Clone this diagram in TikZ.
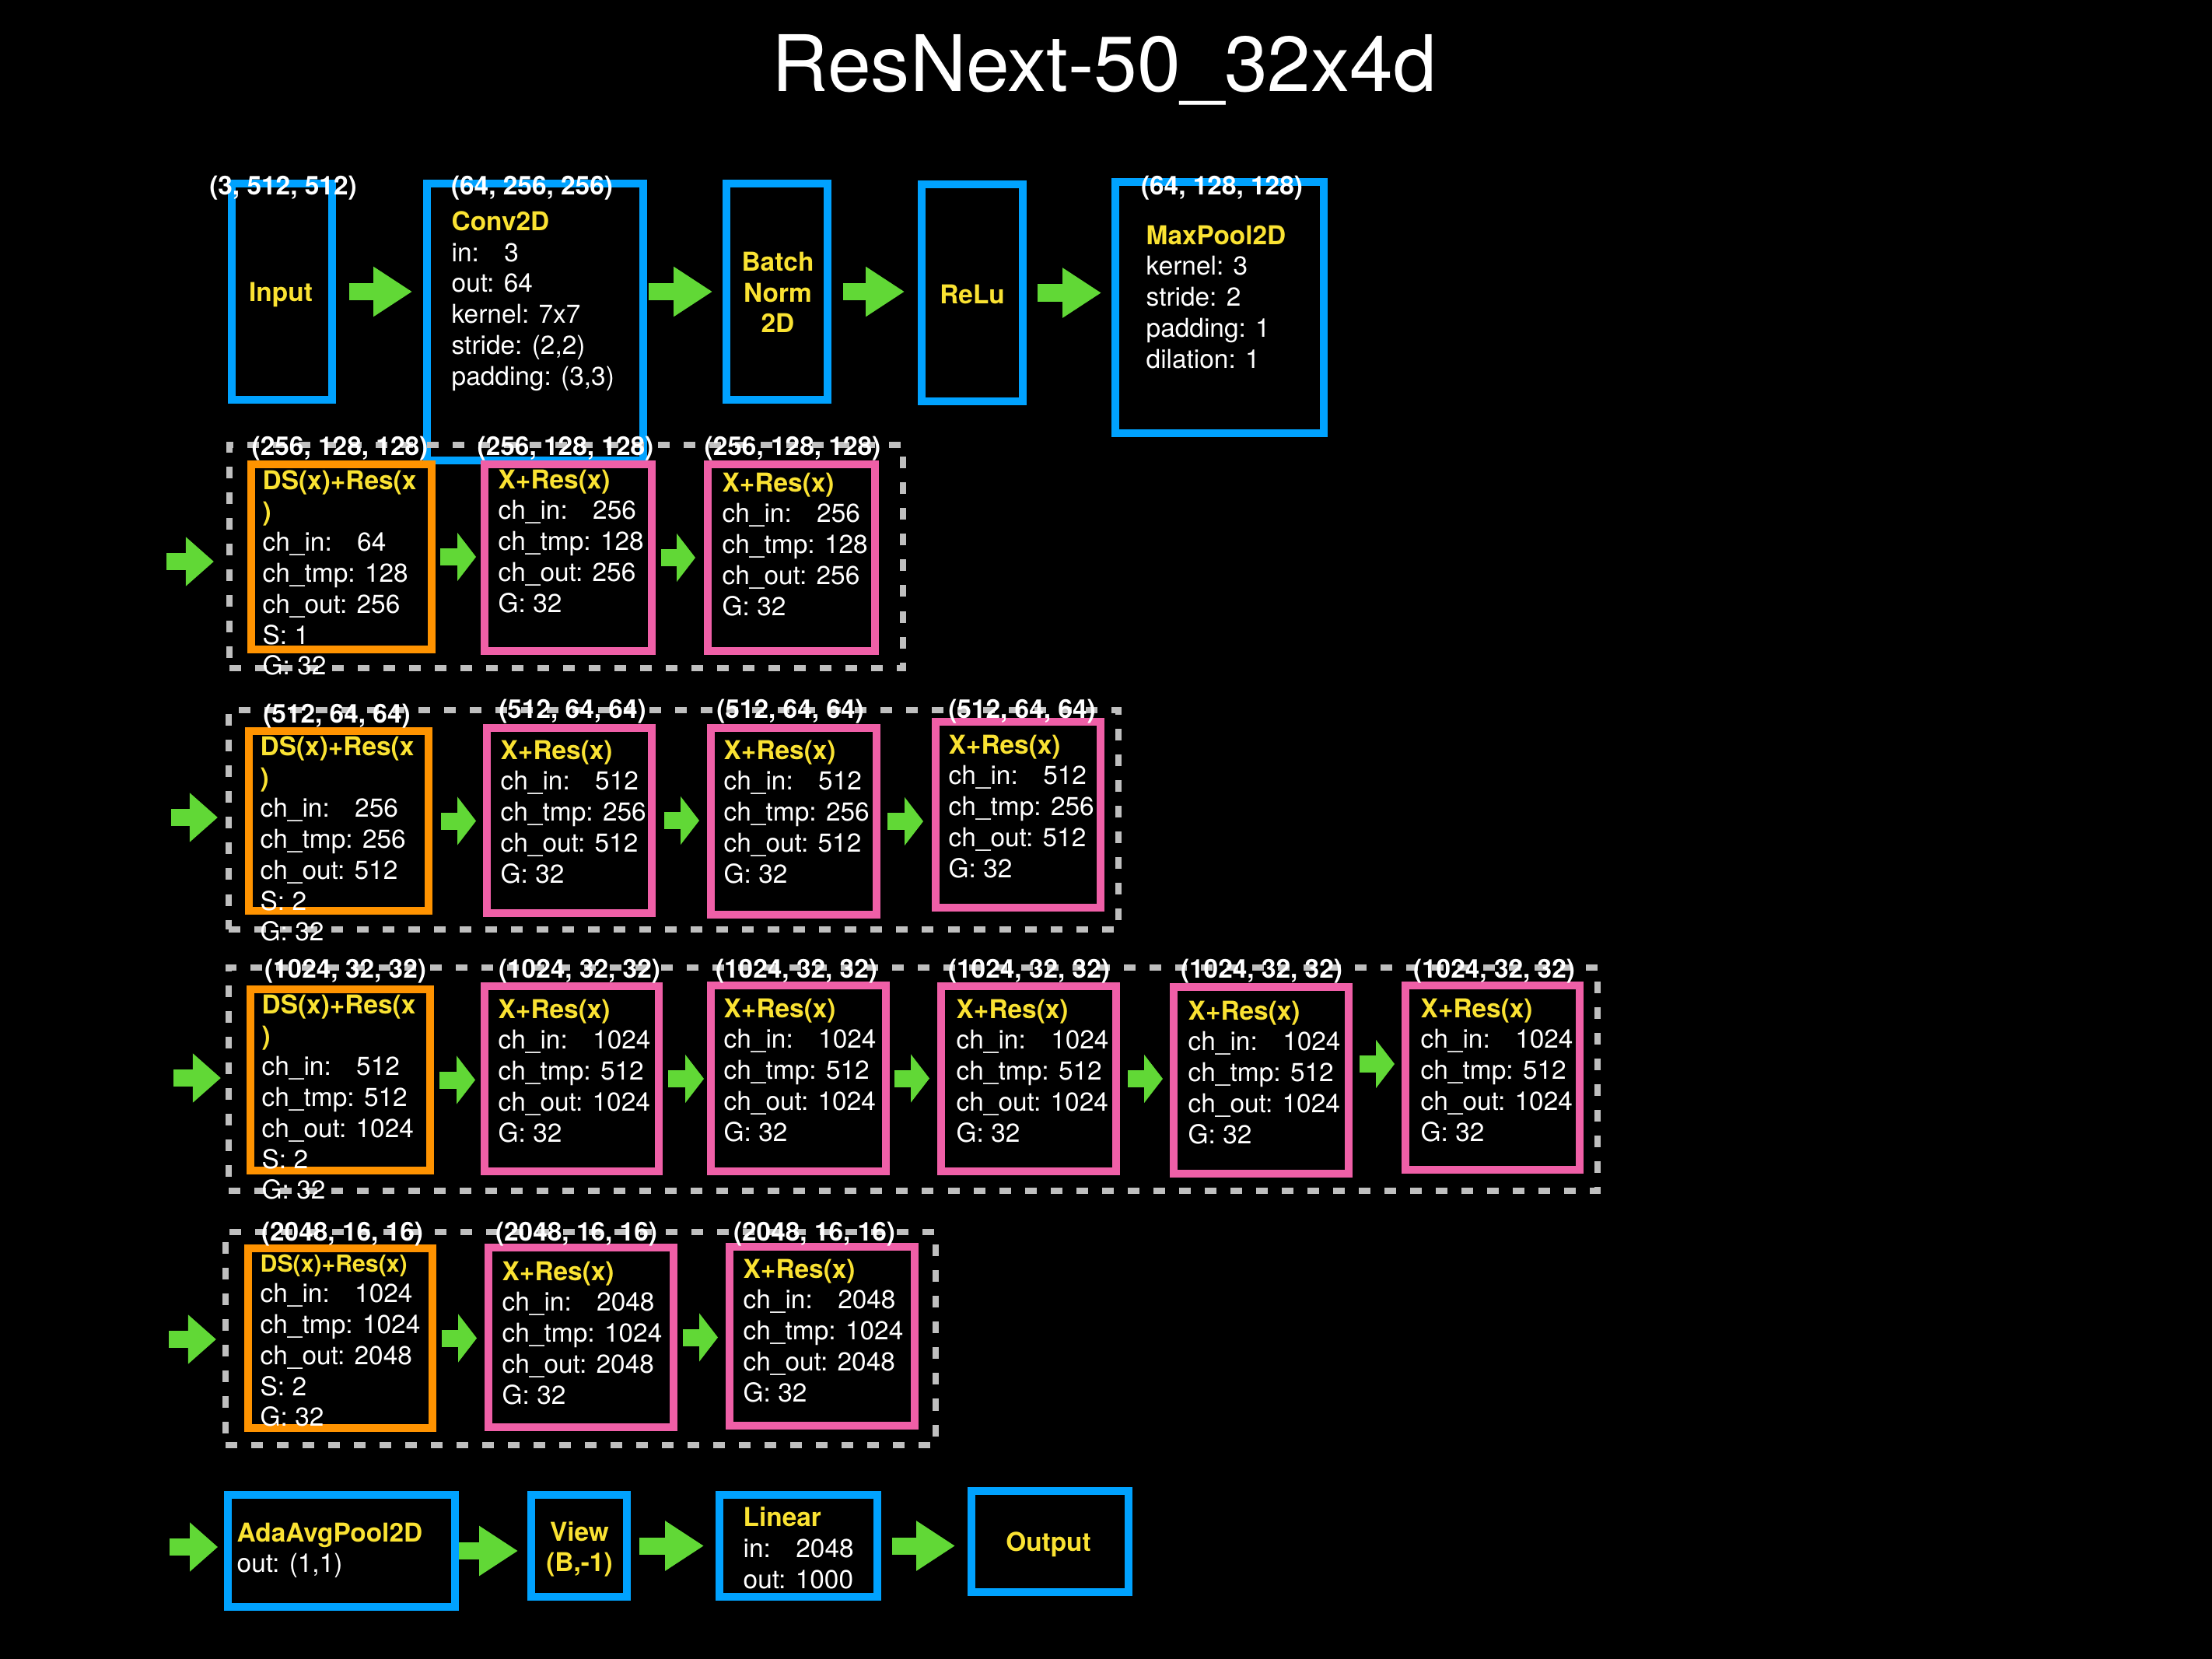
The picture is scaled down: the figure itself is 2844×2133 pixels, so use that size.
\documentclass[tikz,border=0pt]{standalone}
\usepackage{fontspec}
\setmainfont{TeX Gyre Heros}
\usepackage{xcolor}
\usetikzlibrary{arrows.meta,positioning,fit}
\definecolor{kblue}{RGB}{0,162,255}
\definecolor{korange}{RGB}{255,147,0}
\definecolor{kpink}{RGB}{239,95,167}
\definecolor{kgreen}{RGB}{97,216,54}
\definecolor{kyellow}{RGB}{250,226,50}
\definecolor{kgray}{RGB}{191,191,191}
\newcommand{\hd}[1]{\textcolor{kyellow}{\bfseries #1}}
\tikzset{
  blk/.style={draw=#1, line width=3.1pt, inner sep=0pt},
  grp/.style={draw=kgray, line width=2.3pt, dash pattern=on 0.15cm off 0.18cm, inner sep=0pt},
  txt/.style={text=white, font=\fontsize{9.5}{11.3}\selectfont, align=left,
              anchor=north west, inner sep=0pt},
  ctxt/.style={text=kyellow, font=\bfseries\fontsize{9.5}{11.3}\selectfont,
               align=center, inner sep=0pt},
  shp/.style={text=white, font=\bfseries\fontsize{9.5}{11.3}\selectfont, inner sep=0pt},
  farrow/.style={draw=kgreen, line width=0.22cm, -{Triangle[length=#1, width=0.61cm]}},
  farrow/.default=0.5cm,
}
\begin{document}
\begin{tikzpicture}[x=0.01cm, y=-0.01cm]

  \fill[black] (0,0) rectangle (2844,2133);
  \useasboundingbox (0,0) rectangle (2844,2133);

  \node[text=white, font=\fontsize{28.5}{34}\selectfont] (title) at (1420,90) {ResNext-50\_32x4d};

  % Stem
  \node[blk=kblue, fit={(298,236) (427,514)}] (input) {};
  \node[blk=kblue, fit={(549,236) (827,592)}] (conv) {};
  \node[blk=kblue, fit={(934,236) (1064,514)}] (bn) {};
  \node[blk=kblue, fit={(1185,237) (1315,516)}] (relu) {};
  \node[blk=kblue, fit={(1434,234) (1702,557)}] (pool) {};

  % Layer 1
  \node[grp, fit={(295,572) (1161,859)}] (layer1) {};
  \node[blk=korange, fit={(323,597) (555,835)}] (ds1) {};
  \node[blk=kpink, fit={(623,597) (838,837)}] (xa1) {};
  \node[blk=kpink, fit={(910,597) (1125,837)}] (xa2) {};

  % Layer 2
  \node[grp, fit={(294,913) (1438,1195)}] (layer2) {};
  \node[blk=korange, fit={(320,940) (551,1171)}] (ds2) {};
  \node[blk=kpink, fit={(626,936) (838,1174)}] (xb1) {};
  \node[blk=kpink, fit={(914,936) (1127,1176)}] (xb2) {};
  \node[blk=kpink, fit={(1203,928) (1415,1167)}] (xb3) {};

  % Layer 3
  \node[grp, fit={(294,1244) (2054,1531)}] (layer3) {};
  \node[blk=korange, fit={(322,1272) (553,1505)}] (ds3) {};
  \node[blk=kpink, fit={(623,1268) (847,1506)}] (xc1) {};
  \node[blk=kpink, fit={(914,1267) (1139,1506)}] (xc2) {};
  \node[blk=kpink, fit={(1210,1268) (1435,1506)}] (xc3) {};
  \node[blk=kpink, fit={(1509,1269) (1734,1509)}] (xc4) {};
  \node[blk=kpink, fit={(1807,1267) (2031,1504)}] (xc5) {};

  % Layer 4
  \node[grp, fit={(290,1584) (1203,1858)}] (layer4) {};
  \node[blk=korange, fit={(319,1605) (556,1836)}] (ds4) {};
  \node[blk=kpink, fit={(628,1604) (866,1835)}] (xd1) {};
  \node[blk=kpink, fit={(938,1603) (1176,1833)}] (xd2) {};

  % Head
  \node[blk=kblue, fit={(293,1922) (585,2066)}] (avg) {};
  \node[blk=kblue, fit={(683,1922) (806,2053)}] (view) {};
  \node[blk=kblue, fit={(925,1922) (1128,2053)}] (lin) {};
  \node[blk=kblue, fit={(1249,1917) (1451,2047)}] (outp) {};

  % Arrows
  \draw[farrow, shorten <=0.165cm, shorten >=0.135cm] (input.east) -- (input.east -| conv.west);
  \draw[farrow, shorten <=0.015cm, shorten >=0.125cm] (conv.east |- bn.west) -- (bn.west);
  \draw[farrow, shorten <=0.145cm, shorten >=0.165cm] (bn.east) -- (bn.east -| relu.west);
  \draw[farrow, shorten <=0.135cm, shorten >=0.125cm] (relu.east) -- (relu.east -| pool.west);

  \coordinate (in1) at (214,722);
  \draw[farrow=0.36cm, shorten >=0.16cm] (in1) -- (in1 -| layer1.west);
  \draw[farrow=0.24cm, shorten <=0.055cm, shorten >=0.055cm] (ds1.east) -- (ds1.east -| xa1.west);
  \draw[farrow=0.24cm, shorten <=0.065cm, shorten >=0.105cm] (xa1.east) -- (xa1.east -| xa2.west);

  \coordinate (in2) at (220,1051);
  \draw[farrow=0.36cm, shorten >=0.1cm] (in2) -- (in2 -| layer2.west);
  \draw[farrow=0.24cm, shorten <=0.105cm, shorten >=0.085cm] (ds2.east) -- (ds2.east -| xb1.west);
  \draw[farrow=0.24cm, shorten <=0.105cm, shorten >=0.095cm] (xb1.east) -- (xb1.east -| xb2.west);
  \draw[farrow=0.24cm, shorten <=0.085cm, shorten >=0.105cm] (xb2.east) -- (xb2.east -| xb3.west);

  \coordinate (in3) at (223,1386);
  \coordinate (c45) at ([yshift=0.21cm]xc4.east);
  \draw[farrow=0.36cm, shorten >=0.06cm] (in3) -- (in3 -| layer3.west);
  \draw[farrow=0.24cm, shorten <=0.065cm, shorten >=0.065cm] (ds3.east) -- (ds3.east -| xc1.west);
  \draw[farrow=0.24cm, shorten <=0.065cm, shorten >=0.035cm] (xc1.east) -- (xc1.east -| xc2.west);
  \draw[farrow=0.24cm, shorten <=0.055cm, shorten >=0.095cm] (xc2.east) -- (xc2.east -| xc3.west);
  \draw[farrow=0.24cm, shorten <=0.095cm, shorten >=0.085cm] (xc3.east) -- (xc3.east -| xc4.west);
  \draw[farrow=0.24cm, shorten <=0.085cm, shorten >=0.085cm] (c45) -- (c45 -| xc5.west);

  \coordinate (in4) at (217,1722);
  \draw[farrow=0.36cm, shorten >=0.08cm] (in4) -- (in4 -| layer4.west);
  \draw[farrow=0.24cm, shorten <=0.065cm, shorten >=0.095cm] (ds4.east) -- (ds4.east -| xd1.west);
  \draw[farrow=0.24cm, shorten <=0.065cm, shorten >=0.095cm] (xd1.east) -- (xd1.east -| xd2.west);

  \coordinate (in5) at (218,1989);
  \draw[farrow=0.36cm, shorten >=0.075cm] (in5) -- (in5 -| avg.west);
  \draw[farrow, shorten >=0.115cm] (avg.east) -- (avg.east -| view.west);
  \draw[farrow, shorten <=0.105cm, shorten >=0.145cm] (view.east) -- (view.east -| lin.west);
  \draw[farrow, shorten <=0.135cm, shorten >=0.155cm] (lin.east) -- (lin.east -| outp.west);

  % Box texts
  \node[ctxt] (t-input) at (361,379) {Input};
  \node[txt] (t-conv) at (580,271) {\hd{Conv2D}\\in:\hspace{0.6em} 3\\out: 64\\kernel: 7x7\\stride: (2,2)\\padding: (3,3)};
  \node[ctxt] (t-bn) at (1000,376) {Batch\\Norm\\2D};
  \node[ctxt] (t-relu) at (1250,378) {ReLu};
  \node[txt] (t-pool) at (1473,289) {\hd{MaxPool2D}\\kernel: 3\\stride: 2\\padding: 1\\dilation: 1};

  \node[txt] (t-ds1) at (337,604) {\hd{DS(x)+Res(x}\\\hd{)}\\ch\_in:\hspace{0.6em} 64\\ch\_tmp: 128\\ch\_out: 256\\S: 1\\G: 32};
  \node[txt] (t-xa1) at (640,603) {\hd{X+Res(x)}\\ch\_in:\hspace{0.6em} 256\\ch\_tmp: 128\\ch\_out: 256\\G: 32};
  \node[txt] (t-xa2) at (928,607) {\hd{X+Res(x)}\\ch\_in:\hspace{0.6em} 256\\ch\_tmp: 128\\ch\_out: 256\\G: 32};

  \node[txt] (t-ds2) at (334,946) {\hd{DS(x)+Res(x}\\\hd{)}\\ch\_in:\hspace{0.6em} 256\\ch\_tmp: 256\\ch\_out: 512\\S: 2\\G: 32};
  \node[txt] (t-xb1) at (643,951) {\hd{X+Res(x)}\\ch\_in:\hspace{0.6em} 512\\ch\_tmp: 256\\ch\_out: 512\\G: 32};
  \node[txt] (t-xb2) at (930,951) {\hd{X+Res(x)}\\ch\_in:\hspace{0.6em} 512\\ch\_tmp: 256\\ch\_out: 512\\G: 32};
  \node[txt] (t-xb3) at (1219,944) {\hd{X+Res(x)}\\ch\_in:\hspace{0.6em} 512\\ch\_tmp: 256\\ch\_out: 512\\G: 32};

  \node[txt] (t-ds3) at (336,1278) {\hd{DS(x)+Res(x}\\\hd{)}\\ch\_in:\hspace{0.6em} 512\\ch\_tmp: 512\\ch\_out: 1024\\S: 2\\G: 32};
  \node[txt] (t-xc1) at (640,1284) {\hd{X+Res(x)}\\ch\_in:\hspace{0.6em} 1024\\ch\_tmp: 512\\ch\_out: 1024\\G: 32};
  \node[txt] (t-xc2) at (930,1283) {\hd{X+Res(x)}\\ch\_in:\hspace{0.6em} 1024\\ch\_tmp: 512\\ch\_out: 1024\\G: 32};
  \node[txt] (t-xc3) at (1229,1284) {\hd{X+Res(x)}\\ch\_in:\hspace{0.6em} 1024\\ch\_tmp: 512\\ch\_out: 1024\\G: 32};
  \node[txt] (t-xc4) at (1527,1286) {\hd{X+Res(x)}\\ch\_in:\hspace{0.6em} 1024\\ch\_tmp: 512\\ch\_out: 1024\\G: 32};
  \node[txt] (t-xc5) at (1826,1283) {\hd{X+Res(x)}\\ch\_in:\hspace{0.6em} 1024\\ch\_tmp: 512\\ch\_out: 1024\\G: 32};

  \node[txt] (t-ds4) at (334,1612) {\hd{\fontsize{8.6}{11.3}\selectfont DS(x)+Res(x)}\\ch\_in:\hspace{0.6em} 1024\\ch\_tmp: 1024\\ch\_out: 2048\\S: 2\\G: 32};
  \node[txt] (t-xd1) at (645,1621) {\hd{X+Res(x)}\\ch\_in:\hspace{0.6em} 2048\\ch\_tmp: 1024\\ch\_out: 2048\\G: 32};
  \node[txt] (t-xd2) at (955,1618) {\hd{X+Res(x)}\\ch\_in:\hspace{0.6em} 2048\\ch\_tmp: 1024\\ch\_out: 2048\\G: 32};

  \node[txt] (t-avg) at (304,1957) {\hd{AdaAvgPool2D}\\out: (1,1)};
  \node[ctxt] (t-view) at (745,1992) {View\\(B,-1)};
  \node[txt] (t-lin) at (955,1937) {\hd{Linear}\\in:\hspace{0.6em} 2048\\out: 1000};
  \node[ctxt] (t-outp) at (1348,1986) {Output};

  % Shapes
  \node[shp] (s-input) at (364,242) {(3, 512, 512)};
  \node[shp] (s-conv) at (684,242) {(64, 256, 256)};
  \node[shp] (s-pool) at (1571,242) {(64, 128, 128)};
  \node[shp] (s-ds1) at (437,577) {(256, 128, 128)};
  \node[shp] (s-xa1) at (727,577) {(256, 128, 128)};
  \node[shp] (s-xa2) at (1019,577) {(256, 128, 128)};
  \node[shp] (s-ds2) at (433,921) {(512, 64, 64)};
  \node[shp] (s-xb1) at (736,915) {(512, 64, 64)};
  \node[shp] (s-xb2) at (1016,915) {(512, 64, 64)};
  \node[shp] (s-xb3) at (1314,915) {(512, 64, 64)};
  \node[shp] (s-ds3) at (444,1249) {(1024, 32, 32)};
  \node[shp] (s-xc1) at (745,1249) {(1024, 32, 32)};
  \node[shp] (s-xc2) at (1024,1249) {(1024, 32, 32)};
  \node[shp] (s-xc3) at (1323,1249) {(1024, 32, 32)};
  \node[shp] (s-xc4) at (1622,1249) {(1024, 32, 32)};
  \node[shp] (s-xc5) at (1921,1249) {(1024, 32, 32)};
  \node[shp] (s-ds4) at (440,1587) {(2048, 16, 16)};
  \node[shp] (s-xd1) at (741,1587) {(2048, 16, 16)};
  \node[shp] (s-xd2) at (1047,1587) {(2048, 16, 16)};

\end{tikzpicture}
\end{document}
